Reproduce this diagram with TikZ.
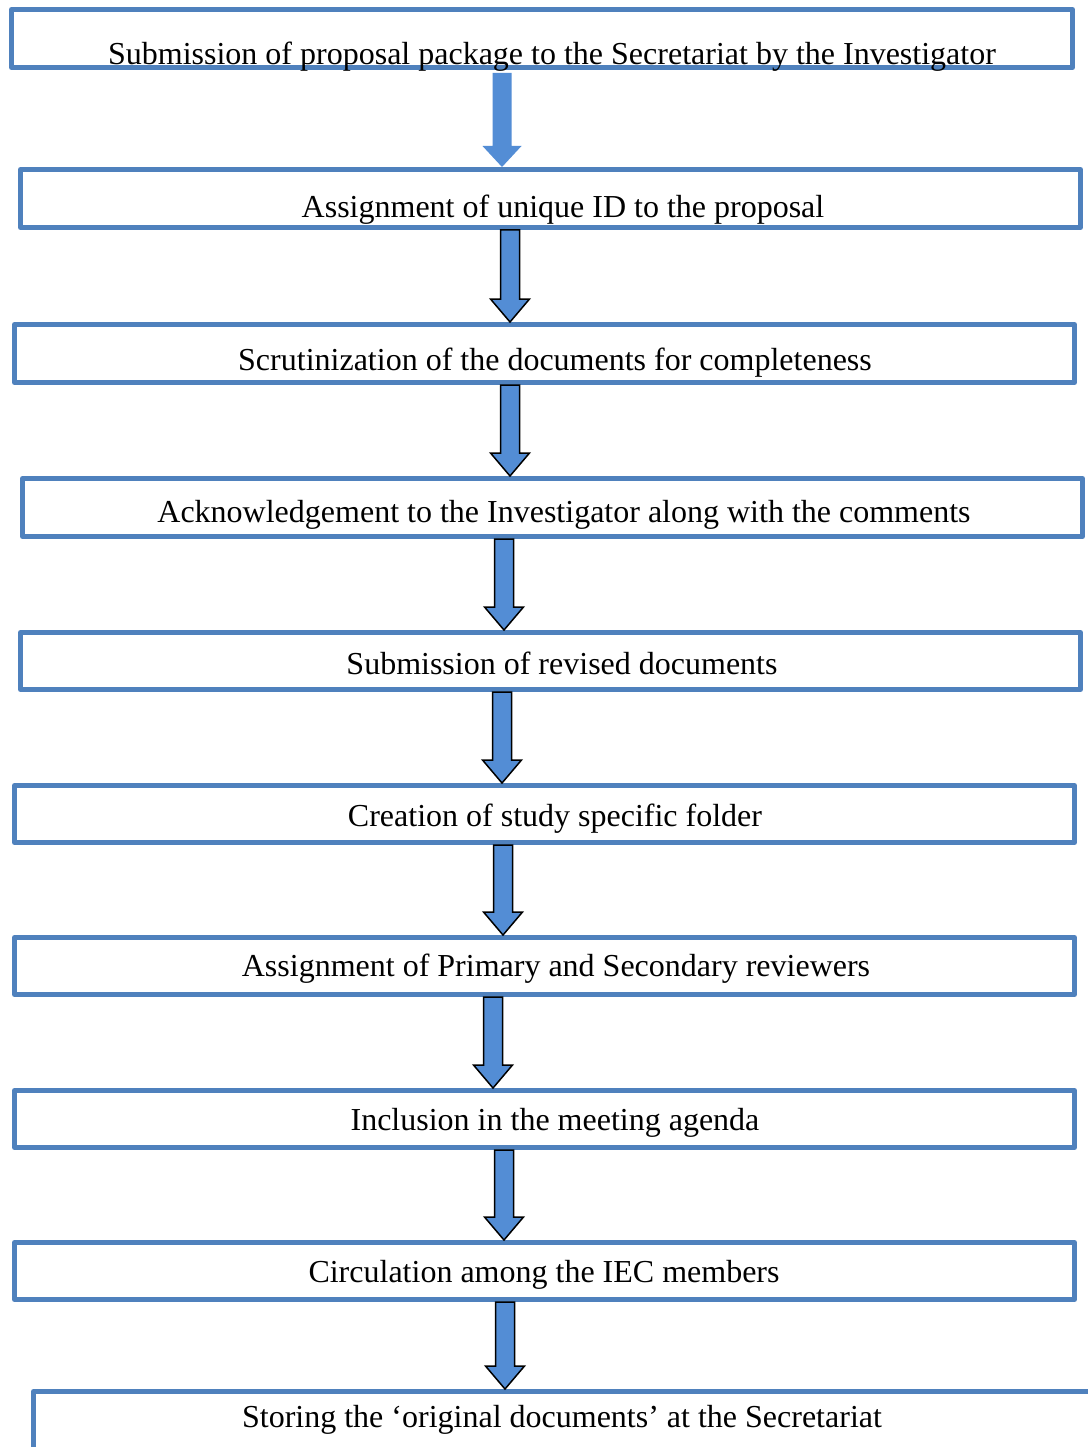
\documentclass[tikz,border=0pt]{standalone}
\usepackage{fontspec}
\setmainfont{Liberation Serif}
\usetikzlibrary{calc}
\definecolor{boxblue}{RGB}{79,129,189}
\definecolor{arrowblue}{RGB}{83,141,213}
\tikzset{
  stepbox/.style={draw=boxblue, line width=5pt, rectangle, inner sep=0pt, line join=round},
  txt/.style={anchor=base, inner sep=0pt, font=\fontsize{32}{38}\selectfont},
  barrow/.style={fill=arrowblue, draw=black, line width=1.5pt, line join=miter},
  barrowplain/.style={fill=arrowblue, draw=none},
}
\newcommand\blockarrow[6]{% style, x, from, to, head length, top gap
  \path[#1] let \p1=(#3.south), \p2=(#4.north) in
    ({#2pt-9.5pt},{\y1-#6pt}) -- ({#2pt+9.5pt},{\y1-#6pt}) -- ({#2pt+9.5pt},{\y2+#5pt}) --
    ({#2pt+19.5pt},{\y2+#5pt}) -- (#2pt,\y2) -- ({#2pt-19.5pt},{\y2+#5pt}) --
    ({#2pt-9.5pt},{\y2+#5pt}) -- cycle;}
\begin{document}
\begin{tikzpicture}[x=1pt,y=-1pt]
\useasboundingbox (0,0) rectangle (1087,1447);
\fill[white] (0,0) rectangle (1087,1447);
% boxes: centre line = outer - 2.5
\node[stepbox, minimum width=1061pt, minimum height=58pt] (b1) at (542,38.5) {};
\node[stepbox, minimum width=1060pt, minimum height=58pt] (b2) at (550.5,198.5) {};
\node[stepbox, minimum width=1060pt, minimum height=58pt] (b3) at (544.5,353.5) {};
\node[stepbox, minimum width=1060pt, minimum height=58pt] (b4) at (552.5,507.5) {};
\node[stepbox, minimum width=1060pt, minimum height=57pt] (b5) at (550.5,661) {};
\node[stepbox, minimum width=1060pt, minimum height=57pt] (b6) at (544.5,814) {};
\node[stepbox, minimum width=1060pt, minimum height=57pt] (b7) at (544.5,966) {};
\node[stepbox, minimum width=1060pt, minimum height=57pt] (b8) at (544.5,1119) {};
\node[stepbox, minimum width=1060pt, minimum height=57pt] (b9) at (544.5,1271) {};
\node[stepbox, minimum width=1080pt, minimum height=80pt] (b10) at (573.5,1431.5) {};
% texts
\node[txt] (t1) at (552,65) {Submission of proposal package to the Secretariat by the Investigator};
\node[txt] (t2) at (563,218) {Assignment of unique ID to the proposal};
\node[txt] (t3) at (555,370) {Scrutinization of the documents for completeness};
\node[txt] (t4) at (564,522) {Acknowledgement to the Investigator along with the comments};
\node[txt] (t5) at (562,674) {Submission of revised documents};
\node[txt] (t6) at (555,826) {Creation of study specific folder};
\node[txt] (t7) at (556,976) {Assignment of Primary and Secondary reviewers};
\node[txt] (t8) at (555,1130) {Inclusion in the meeting agenda};
\node[txt] (t9) at (544,1282) {Circulation among the IEC members};
\node[txt] (t10) at (562,1427) {Storing the ‘original documents’ at the Secretariat};
% arrows
\blockarrow{barrowplain}{502}{b1}{b2}{21}{3}
\blockarrow{barrow}{510}{b2}{b3}{23}{0}
\blockarrow{barrow}{510}{b3}{b4}{23}{0}
\blockarrow{barrow}{504}{b4}{b5}{23}{0}
\blockarrow{barrow}{502}{b5}{b6}{23}{0}
\blockarrow{barrow}{503}{b6}{b7}{23}{0}
\blockarrow{barrow}{493}{b7}{b8}{23}{0}
\blockarrow{barrow}{504}{b8}{b9}{23}{0}
\blockarrow{barrow}{505}{b9}{b10}{23}{0}
\end{tikzpicture}
\end{document}
